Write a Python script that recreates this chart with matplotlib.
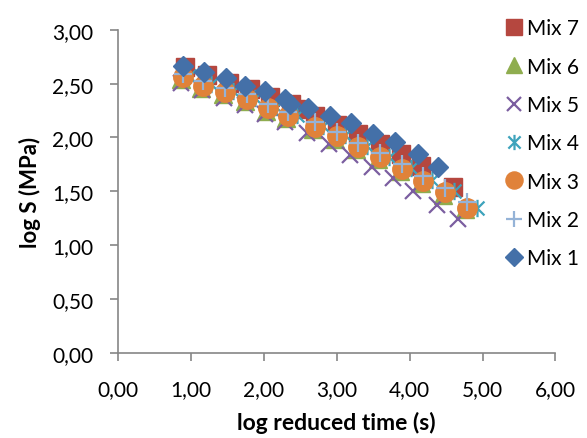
import matplotlib
matplotlib.use("Agg")
import matplotlib.pyplot as plt
from matplotlib.path import Path
from matplotlib.ticker import FuncFormatter

plt.rcParams['font.family'] = ['Lato', 'DejaVu Sans']

# log reduced time (s) and log S (MPa), one pair of lists per mix
mix1_x = [0.90, 1.18, 1.48, 1.75, 2.02, 2.29, 2.36, 2.61, 2.91, 3.20, 3.50, 3.80, 4.11, 4.39]
mix1_y = [2.66, 2.61, 2.55, 2.48, 2.43, 2.36, 2.31, 2.27, 2.20, 2.13, 2.03, 1.96, 1.85, 1.73]

mix2_x = [0.90, 1.17, 1.47, 1.77, 2.06, 2.34, 2.71, 3.01, 3.29, 3.60, 3.90, 4.19, 4.49, 4.79]
mix2_y = [2.59, 2.52, 2.46, 2.40, 2.31, 2.24, 2.14, 2.05, 1.95, 1.86, 1.75, 1.64, 1.53, 1.40]

mix3_x = [0.90, 1.17, 1.47, 1.77, 2.06, 2.34, 2.71, 3.01, 3.29, 3.60, 3.90, 4.19, 4.49, 4.79]
mix3_y = [2.56, 2.48, 2.42, 2.36, 2.27, 2.20, 2.10, 2.01, 1.91, 1.82, 1.71, 1.60, 1.49, 1.35]

mix4_x = [0.98, 1.28, 1.58, 1.88, 2.17, 2.46, 2.82, 3.12, 3.41, 3.72, 4.02, 4.31, 4.61, 4.92]
mix4_y = [2.57, 2.50, 2.43, 2.37, 2.28, 2.21, 2.11, 2.02, 1.92, 1.82, 1.72, 1.61, 1.50, 1.35]

mix5_x = [0.87, 1.16, 1.46, 1.75, 2.02, 2.29, 2.60, 2.89, 3.18, 3.49, 3.78, 4.05, 4.38, 4.67]
mix5_y = [2.51, 2.44, 2.37, 2.30, 2.22, 2.14, 2.04, 1.94, 1.84, 1.73, 1.62, 1.50, 1.37, 1.24]

mix6_x = [0.87, 1.14, 1.44, 1.74, 2.03, 2.31, 2.68, 2.98, 3.26, 3.57, 3.87, 4.16, 4.46, 4.76]
mix6_y = [2.54, 2.46, 2.40, 2.34, 2.25, 2.18, 2.08, 1.99, 1.89, 1.80, 1.69, 1.58, 1.47, 1.34]

mix7_x = [0.92, 1.22, 1.52, 1.81, 2.09, 2.37, 2.44, 2.70, 3.00, 3.30, 3.60, 3.88, 4.16, 4.60]
mix7_y = [2.65, 2.58, 2.51, 2.45, 2.38, 2.31, 2.26, 2.20, 2.12, 2.03, 1.94, 1.85, 1.74, 1.54]

# excel-like asterisk: vertical bar plus an X
asterisk = Path([(0, -1), (0, 1), (-0.8, -0.8), (0.8, 0.8), (-0.8, 0.8), (0.8, -0.8)],
                [Path.MOVETO, Path.LINETO, Path.MOVETO, Path.LINETO, Path.MOVETO, Path.LINETO])

fig = plt.figure(figsize=(5.87, 4.39), dpi=100)
ax = fig.add_axes([0.2005, 0.1936, 0.7458, 0.7364])

ax.plot(mix7_x, mix7_y, ls='none', marker='s', ms=12.5, color='#B5473F', label='Mix 7')
ax.plot(mix6_x, mix6_y, ls='none', marker='^', ms=12.5, color='#8FAD4F', label='Mix 6')
ax.plot(mix5_x, mix5_y, ls='none', marker='x', ms=12, mew=1.6, color='#7B5EA0', label='Mix 5')
ax.plot(mix4_x, mix4_y, ls='none', marker=asterisk, ms=12.5, mew=1.6, color='#3DA3BC',
        fillstyle='none', label='Mix 4')
ax.plot(mix3_x, mix3_y, ls='none', marker='o', ms=14, color='#E0823A', label='Mix 3')
ax.plot(mix2_x, mix2_y, ls='none', marker='+', ms=13, mew=1.6, color='#95B3D7', label='Mix 2')
ax.plot(mix1_x, mix1_y, ls='none', marker='D', ms=10.5, color='#4470A8', label='Mix 1')

ax.set_xlim(0, 6)
ax.set_ylim(0, 3)
ax.set_xticks([0, 1, 2, 3, 4, 5, 6])
ax.set_yticks([0, 0.5, 1, 1.5, 2, 2.5, 3])
fmt = FuncFormatter(lambda v, p: f"{v:.2f}".replace('.', ','))
ax.xaxis.set_major_formatter(fmt)
ax.yaxis.set_major_formatter(fmt)

for side in ['top', 'right']:
    ax.spines[side].set_visible(False)
for side in ['left', 'bottom']:
    ax.spines[side].set_color('#868686')
    ax.spines[side].set_linewidth(1.2)
ax.tick_params(colors='#868686', labelcolor='black', labelsize=15, length=5.5, width=1.2)
ax.tick_params(axis='x', pad=13)
ax.tick_params(axis='y', pad=12)

ax.set_xlabel('log reduced time (s)', fontsize=16.5, fontweight='bold', labelpad=9)
ax.set_ylabel('log S (MPa)', fontsize=16, fontweight='bold', labelpad=8)

fig.legend(loc='upper left', bbox_to_anchor=(0.846, 0.975), frameon=False, fontsize=15,
           markerscale=0.88, handlelength=0.9, handletextpad=0.15, labelspacing=0.88,
           borderaxespad=0)

fig.savefig('out.png', dpi=100)
